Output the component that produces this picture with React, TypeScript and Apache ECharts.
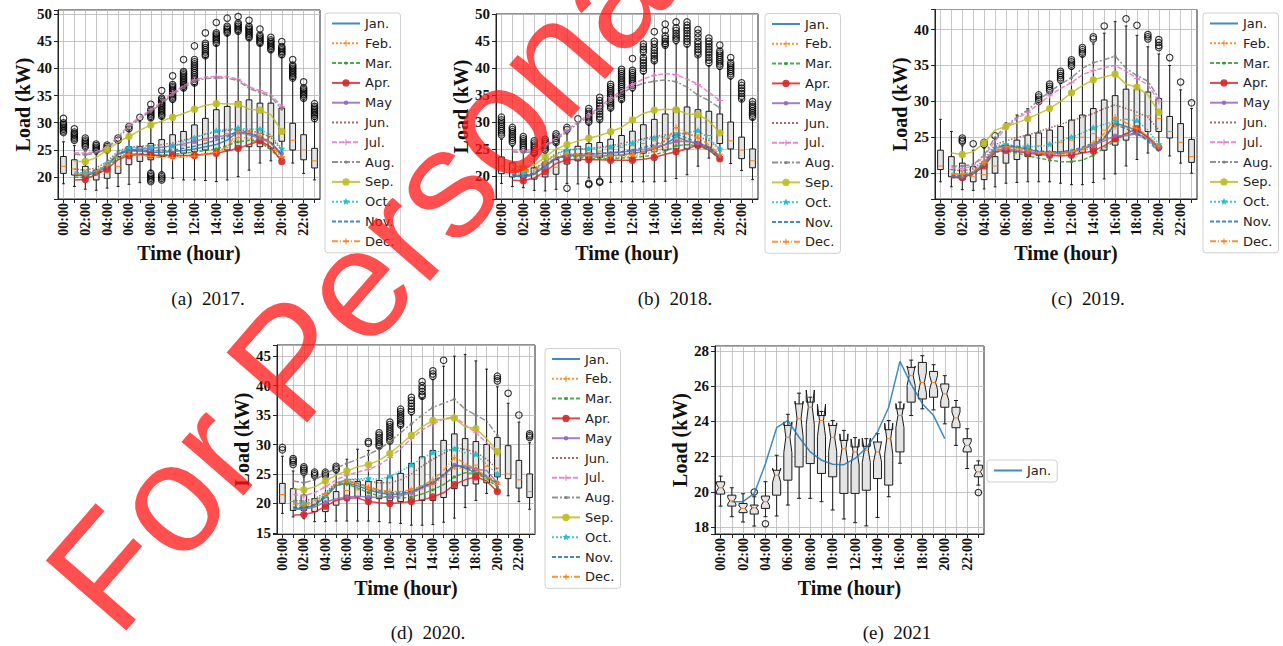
import React, { useEffect, useRef } from 'react';
import * as echarts from 'echarts';

// ---------- categories ----------
const HOURS = ['00:00', '01:00', '02:00', '03:00', '04:00', '05:00', '06:00', '07:00', '08:00', '09:00', '10:00', '11:00',
  '12:00', '13:00', '14:00', '15:00', '16:00', '17:00', '18:00', '19:00', '20:00', '21:00', '22:00', '23:00'];
const MONTHS = ['Jan.', 'Feb.', 'Mar.', 'Apr.', 'May', 'Jun.', 'Jul.', 'Aug.', 'Sep.', 'Oct.', 'Nov.', 'Dec.'];
// monthly mean lines are drawn at hours 01:00 .. 20:00
const LINE_HOURS = [1, 2, 3, 4, 5, 6, 7, 8, 9, 10, 11, 12, 13, 14, 15, 16, 17, 18, 19, 20];

// ---------- 2017 ----------
// [low whisker, Q1, median, Q3, high whisker] per hour
const boxes2017 = [
  [18.8, 20.7, 22.0, 23.8, 26.5], [18.3, 20.4, 21.5, 23.2, 25.8], [17.8, 20.1, 21.0, 22.0, 24.8], [17.6, 19.5, 20.3, 21.3, 24.2],
  [18.0, 19.8, 20.8, 22.0, 24.5], [18.3, 20.7, 22.0, 23.8, 26.5], [18.7, 22.3, 23.8, 25.6, 28.5], [19.0, 22.9, 24.2, 25.6, 30.2],
  [21.3, 23.2, 24.6, 26.2, 30.5], [21.0, 23.8, 25.0, 26.9, 30.8], [19.8, 24.1, 25.4, 27.8, 33.8], [19.5, 24.4, 25.8, 28.4, 36.0],
  [19.5, 24.7, 26.2, 29.6, 37.0], [19.4, 25.0, 26.8, 30.8, 42.0], [19.2, 25.0, 27.5, 32.4, 44.2], [19.5, 25.0, 28.0, 33.0, 46.0],
  [20.1, 25.3, 28.5, 33.9, 46.5], [21.3, 25.6, 28.5, 34.2, 45.2], [22.6, 25.6, 28.0, 33.6, 44.2], [23.0, 25.3, 27.5, 33.6, 43.0],
  [23.5, 26.6, 28.5, 32.7, 42.0], [22.6, 25.0, 26.8, 29.9, 38.0], [20.7, 23.2, 25.0, 27.8, 34.2], [19.5, 21.7, 23.0, 25.3, 30.6],
];
const outliers2017 = [
  [30.8, 30.0, 29.7, 29.4, 29.1, 28.8, 28.5, 28.2], [28.9, 28.3, 28.0, 27.7, 27.4, 27.1, 26.8], [27.2, 26.8, 26.5, 26.2, 25.9, 25.6],
  [26.1, 25.8, 25.5, 25.2, 24.9], [25.9, 25.6, 25.3, 25.0], [27.2, 26.8], [29.3, 28.9], [31.0],
  [33.4, 32.4, 32.1, 31.8, 31.5, 31.2, 30.9, 20.7, 20.4, 20.1, 19.8, 19.5, 19.2],
  [35.9, 34.5, 34.2, 33.9, 33.6, 33.3, 33.0, 32.7, 32.4, 32.1, 31.8, 31.5, 31.2, 20.4, 20.1, 19.8, 19.5],
  [38.6, 37.0, 36.7, 36.4, 36.1, 35.8, 35.5, 35.2, 34.9, 34.6, 34.3],
  [41.6, 39.4, 39.1, 38.8, 38.5, 38.2, 37.9, 37.6, 37.3, 37.0, 36.7, 36.4],
  [44.1, 41.6, 41.2, 40.8, 40.4, 40.0, 39.6, 39.2, 38.8, 38.4, 38.0, 37.6, 37.3],
  [46.5, 44.6, 44.2, 43.8, 43.4, 43.0, 42.6, 42.3], [48.4, 46.5, 46.2, 45.9, 45.6, 45.3, 45.0, 44.6],
  [49.2, 47.7, 47.4, 47.1, 46.8, 46.5], [49.5, 48.3, 48.0, 47.7, 47.4, 47.1, 46.8],
  [48.8, 47.7, 47.4, 47.1, 46.8, 46.5, 46.2, 45.9, 45.6], [47.2, 46.1, 45.8, 45.5, 45.2, 44.9, 44.6],
  [45.7, 45.2, 44.9, 44.6, 44.3, 44.0, 43.7, 43.4], [44.9, 44.0, 43.7, 43.4, 43.1, 42.8, 42.5],
  [41.6, 40.6, 40.3, 40.0, 39.7, 39.4, 39.1, 38.8, 38.5, 38.2], [37.5, 36.4, 36.1, 35.8, 35.5, 35.2, 34.9, 34.5],
  [33.5, 33.0, 32.7, 32.4, 32.1, 31.8, 31.5, 31.2, 30.8],
];
const lines2017 = [
  [20.3, 20.3, 20.8, 22.0, 24.2, 24.8, 24.8, 24.6, 24.6, 24.7, 24.9, 25.2, 25.6, 26.0, 26.8, 28.3, 28.0, 27.4, 26.3, 24.0], // Jan
  [20.8, 20.8, 21.2, 22.3, 24.0, 24.3, 24.1, 23.9, 23.8, 23.8, 23.9, 24.1, 24.3, 24.6, 25.4, 27.3, 27.2, 26.6, 25.6, 23.8], // Feb
  [20.0, 20.0, 20.5, 21.7, 23.6, 24.2, 24.3, 24.1, 24.1, 24.2, 24.4, 24.6, 24.9, 25.2, 25.8, 26.5, 26.8, 26.5, 25.0, 23.2], // Mar
  [19.5, 19.6, 20.5, 21.5, 23.2, 24.0, 24.2, 24.1, 24.0, 24.0, 24.0, 24.0, 24.2, 24.4, 24.8, 25.3, 26.0, 26.7, 25.5, 22.9], // Apr
  [20.5, 20.5, 21.0, 22.3, 24.3, 25.0, 25.2, 25.3, 25.5, 25.8, 26.1, 26.6, 27.1, 27.4, 27.7, 28.2, 27.8, 27.1, 26.3, 24.3], // May
  [21.5, 21.3, 21.7, 22.8, 24.8, 25.5, 25.7, 25.8, 26.0, 26.3, 26.8, 27.3, 27.9, 28.3, 28.6, 28.8, 28.5, 28.2, 27.3, 25.0], // Jun
  [24.5, 24.4, 24.7, 25.5, 27.5, 29.5, 31.1, 32.4, 33.8, 35.5, 36.8, 37.9, 38.4, 38.5, 38.5, 38.0, 36.6, 35.9, 35.2, 33.0], // Jul
  [24.2, 24.1, 24.4, 25.2, 27.2, 29.2, 30.8, 32.1, 33.5, 35.2, 36.5, 37.6, 38.1, 38.2, 38.2, 37.7, 36.3, 35.6, 34.8, 32.5], // Aug
  [22.9, 22.9, 23.6, 25.0, 26.4, 27.5, 28.6, 29.6, 30.3, 31.0, 31.7, 32.5, 33.2, 33.5, 33.5, 33.4, 32.5, 32.3, 31.5, 28.4], // Sep
  [21.0, 20.7, 21.2, 22.5, 24.5, 25.4, 25.4, 25.4, 25.5, 25.7, 26.5, 27.2, 28.0, 28.5, 28.8, 29.0, 28.8, 28.8, 27.8, 25.2], // Oct
  [20.5, 20.4, 20.9, 22.1, 24.3, 25.0, 25.0, 24.9, 24.9, 25.0, 25.3, 25.7, 26.2, 26.8, 27.4, 28.6, 28.2, 27.5, 26.4, 24.1], // Nov
  [20.6, 20.6, 21.0, 22.2, 24.0, 24.2, 24.0, 23.8, 23.6, 23.6, 23.7, 23.9, 24.2, 24.6, 25.6, 28.4, 28.3, 27.6, 26.2, 23.6], // Dec
];

// ---------- 2018 ----------
const boxes2018 = [
  [18.6, 20.4, 21.8, 23.5, 26.8], [18.0, 19.8, 21.0, 22.4, 25.5], [17.8, 19.6, 20.6, 21.8, 24.5], [17.3, 19.4, 20.3, 21.5, 23.8],
  [17.2, 19.8, 21.0, 22.5, 24.2], [17.5, 20.3, 21.6, 23.0, 25.8], [18.6, 22.2, 23.5, 24.8, 27.8], [18.5, 22.8, 24.0, 25.5, 29.8],
  [19.6, 23.2, 24.3, 26.0, 29.5], [19.8, 23.4, 24.6, 26.2, 30.2], [18.8, 23.5, 25.0, 26.8, 32.2], [18.9, 23.8, 25.3, 27.5, 33.8],
  [18.9, 24.0, 25.6, 28.3, 35.8], [18.9, 24.2, 26.0, 29.5, 39.0], [18.9, 24.5, 26.5, 30.5, 41.0], [19.0, 24.8, 27.0, 31.5, 44.0],
  [19.5, 25.0, 27.5, 32.5, 44.5], [20.2, 25.0, 27.8, 32.8, 44.0], [21.8, 25.2, 27.6, 32.3, 42.2], [23.3, 25.3, 27.5, 32.0, 40.5],
  [23.3, 26.0, 28.0, 31.5, 39.8], [22.3, 25.0, 26.5, 30.0, 38.0], [21.0, 23.2, 24.8, 27.2, 34.0], [19.3, 21.5, 22.8, 25.0, 30.5],
];
const outliers2018 = [
  [30.9, 30.4, 30.0, 29.6, 29.2, 28.8, 28.4, 28.0, 27.6], [29.0, 28.6, 28.2, 27.8, 27.4, 27.0, 26.6, 26.2],
  [27.3, 26.9, 26.5, 26.1, 25.7, 25.3, 24.9], [26.5, 26.1, 25.7, 25.3, 24.9, 24.5, 24.2], [26.8, 26.4, 26.0, 25.6, 25.2, 24.8],
  [27.8, 27.4, 27.0, 26.6, 26.2], [29.0, 28.6, 17.7], [30.6], [32.5, 32.0, 31.6, 31.2, 30.8, 30.4, 30.0, 18.6, 18.4],
  [34.6, 34.0, 33.5, 33.0, 32.5, 32.0, 31.5, 31.0, 30.5, 19.0, 18.8],
  [37.0, 36.6, 36.2, 35.8, 35.4, 35.0, 34.6, 34.2, 33.8, 33.4, 33.0, 32.6],
  [39.8, 39.4, 39.0, 38.6, 38.2, 37.8, 37.4, 37.0, 36.6, 36.2, 35.8, 35.4, 35.0, 34.6, 34.2],
  [41.8, 39.6, 39.2, 38.8, 38.4, 38.0, 37.6, 37.2, 36.8, 36.4], [44.5, 44.0, 43.5, 43.0, 42.0, 41.5, 41.0, 40.5, 40.0, 39.5],
  [46.8, 45.0, 44.5, 43.8, 43.3, 42.8, 42.3, 41.8, 41.4], [48.2, 47.0, 46.0, 45.5, 45.0, 44.6, 44.3],
  [48.6, 47.5, 47.0, 46.5, 46.0, 45.6, 45.2], [48.6, 48.0, 47.5, 47.0, 46.5, 46.0, 45.5, 45.0, 44.5],
  [47.2, 46.5, 45.8, 45.0, 44.5, 44.0, 43.5, 43.0, 42.5], [45.6, 45.0, 44.5, 44.0, 43.5, 43.0, 42.5, 42.0, 41.5, 41.0],
  [44.3, 43.2, 42.8, 42.4, 42.0, 41.6, 41.2, 40.8, 40.4], [42.0, 41.0, 40.6, 40.2, 39.8, 39.4, 39.0, 38.6],
  [37.3, 36.8, 36.3, 35.8, 35.3, 34.8, 34.3], [33.8, 33.3, 32.9, 32.5, 32.1, 31.7, 31.3, 30.9],
];
const lines2018 = [
  [20.0, 19.8, 20.3, 21.8, 23.3, 23.7, 23.8, 23.7, 23.7, 23.8, 23.9, 24.2, 24.5, 25.0, 25.8, 27.3, 26.5, 25.9, 25.2, 23.5],
  [20.6, 20.4, 20.8, 22.0, 23.5, 23.8, 23.7, 23.5, 23.4, 23.4, 23.5, 23.7, 24.0, 24.5, 25.2, 26.8, 26.4, 25.8, 25.0, 23.6],
  [20.3, 20.0, 20.5, 21.8, 23.2, 23.6, 23.5, 23.3, 23.2, 23.2, 23.3, 23.4, 23.6, 23.9, 24.5, 25.6, 25.8, 25.6, 24.8, 23.2],
  [19.2, 19.1, 19.6, 20.8, 22.3, 23.0, 23.1, 23.0, 23.0, 22.9, 22.9, 22.9, 23.1, 23.4, 24.0, 24.5, 25.0, 25.8, 24.8, 23.2],
  [20.2, 20.0, 20.4, 21.7, 23.2, 23.8, 24.0, 24.0, 24.1, 24.2, 24.4, 24.6, 24.9, 25.3, 25.8, 26.4, 26.4, 26.1, 25.4, 23.7],
  [21.3, 21.0, 21.4, 22.6, 24.2, 24.8, 25.0, 25.1, 25.3, 25.6, 26.0, 26.4, 26.9, 27.3, 27.6, 28.0, 27.8, 27.3, 26.6, 25.0],
  [24.8, 24.6, 24.8, 25.8, 27.0, 28.5, 30.0, 31.3, 32.8, 34.5, 35.8, 37.0, 38.0, 38.7, 39.0, 38.8, 38.0, 37.0, 35.5, 34.0],
  [24.5, 24.3, 24.5, 25.5, 26.7, 28.2, 29.7, 31.0, 32.4, 34.0, 35.3, 36.5, 37.2, 37.6, 37.8, 37.5, 36.5, 35.0, 34.0, 32.6],
  [22.0, 21.5, 22.0, 23.5, 25.0, 25.8, 26.5, 27.0, 27.5, 28.2, 29.0, 30.4, 31.6, 32.2, 32.4, 32.3, 31.5, 31.4, 30.2, 28.0],
  [21.0, 20.6, 21.0, 22.5, 24.0, 24.8, 25.0, 25.0, 25.2, 25.3, 25.6, 26.0, 26.6, 27.0, 27.3, 27.6, 28.0, 28.4, 27.0, 25.0],
  [20.2, 20.0, 20.5, 21.9, 23.4, 23.9, 24.1, 24.1, 24.2, 24.3, 24.5, 24.8, 25.3, 25.8, 26.5, 27.8, 27.0, 26.2, 25.3, 23.6],
  [21.0, 20.8, 21.2, 22.4, 23.8, 24.1, 24.0, 23.8, 23.7, 23.7, 23.8, 24.0, 24.4, 25.2, 26.5, 29.0, 28.0, 27.0, 25.8, 24.0],
];

// ---------- 2019 ----------
const boxes2019 = [
  [18.8, 20.5, 21.0, 23.2, 27.5], [18.1, 19.5, 20.5, 22.3, 25.8], [17.7, 19.1, 19.8, 21.4, 23.8], [17.6, 18.8, 19.5, 20.9, 23.2],
  [17.8, 19.1, 19.8, 21.4, 23.5], [18.1, 20.0, 21.0, 22.3, 25.0], [18.6, 21.4, 22.8, 23.9, 27.0], [18.7, 21.9, 23.0, 24.6, 28.1],
  [18.8, 22.3, 23.5, 25.3, 29.0], [18.8, 22.5, 23.8, 25.6, 29.8], [18.8, 22.5, 24.0, 26.0, 31.2], [18.6, 22.7, 24.3, 26.5, 32.5],
  [18.4, 22.8, 24.6, 27.4, 34.5], [18.4, 22.9, 25.0, 28.1, 36.2], [18.7, 23.0, 25.5, 29.0, 38.0], [19.2, 23.2, 26.0, 30.2, 39.5],
  [19.9, 23.9, 26.8, 30.8, 41.1], [21.0, 24.6, 27.5, 31.7, 40.5], [21.9, 25.6, 28.0, 31.7, 39.2], [22.8, 25.8, 28.0, 31.3, 37.6],
  [23.2, 25.8, 27.6, 30.4, 36.6], [22.4, 24.9, 25.8, 27.9, 35.0], [21.4, 23.0, 24.3, 26.9, 31.6], [20.0, 21.5, 22.3, 24.7, 29.0],
];
const outliers2019 = [
  [], [], [24.9, 24.6, 24.4], [24.1], [24.3, 24.0], [25.2], [], [], [],
  [30.9, 30.6, 30.3, 30.0], [32.4, 32.1, 31.8, 31.5], [34.2, 33.9, 33.6, 33.3, 33.0], [35.8, 35.5, 35.2, 34.9],
  [37.5, 37.2, 36.9, 36.6], [39.0, 38.7], [40.5], [], [41.5], [40.6], [39.3, 39.0, 38.7], [38.6, 38.2, 37.8, 37.5],
  [36.1], [32.7], [29.8],
];
const lines2019 = [
  [19.5, 19.5, 20.0, 21.3, 23.5, 23.8, 23.6, 23.3, 23.0, 22.9, 22.9, 23.0, 23.4, 24.0, 24.8, 27.0, 26.5, 26.0, 25.0, 23.5],
  [19.8, 19.7, 20.1, 21.3, 23.3, 23.6, 23.4, 23.1, 22.8, 22.7, 22.6, 22.7, 23.0, 23.7, 24.8, 26.5, 26.4, 25.8, 24.8, 23.5],
  [19.4, 19.3, 19.8, 21.0, 22.9, 23.1, 22.8, 22.4, 22.1, 21.8, 21.6, 21.6, 21.8, 22.5, 23.5, 24.5, 25.5, 25.5, 24.7, 23.3],
  [19.4, 19.4, 19.9, 21.0, 23.0, 23.2, 23.0, 22.8, 22.6, 22.5, 22.4, 22.5, 22.8, 23.1, 23.8, 24.8, 25.5, 26.2, 25.0, 23.6],
  [19.6, 19.5, 20.0, 21.3, 23.2, 23.4, 23.2, 22.9, 22.8, 22.7, 22.7, 22.9, 23.3, 23.9, 24.5, 25.2, 25.2, 25.5, 24.8, 23.6],
  [20.5, 20.3, 20.6, 21.8, 24.0, 24.5, 25.0, 25.3, 25.8, 26.3, 26.8, 27.3, 27.8, 28.3, 29.0, 29.5, 29.0, 28.5, 27.8, 26.0],
  [20.8, 20.6, 21.0, 22.3, 24.5, 26.3, 27.6, 28.5, 29.6, 30.8, 31.8, 32.6, 33.7, 34.3, 34.7, 35.0, 34.2, 33.2, 32.3, 30.0],
  [21.0, 21.0, 21.2, 22.5, 25.0, 26.6, 27.8, 28.8, 30.2, 31.3, 32.4, 33.3, 34.6, 35.4, 35.8, 36.3, 34.6, 33.6, 32.8, 30.5],
  [22.8, 22.6, 23.0, 24.2, 26.0, 26.5, 27.0, 27.6, 28.3, 29.0, 30.0, 31.2, 32.2, 33.0, 33.4, 33.8, 32.4, 32.0, 30.9, 28.5],
  [20.0, 19.8, 20.2, 21.5, 23.8, 24.0, 23.8, 23.7, 23.7, 24.0, 24.5, 25.0, 25.6, 26.3, 26.8, 27.3, 27.5, 27.3, 26.0, 24.0],
  [19.7, 19.6, 20.1, 21.4, 23.6, 23.9, 23.7, 23.4, 23.1, 23.0, 23.0, 23.2, 23.6, 24.2, 25.0, 26.8, 26.2, 25.5, 24.5, 23.0],
  [19.9, 19.8, 20.2, 21.5, 23.5, 23.7, 23.5, 23.2, 22.9, 22.8, 22.8, 23.0, 23.4, 24.2, 25.5, 27.8, 27.0, 26.2, 25.2, 23.8],
];

// ---------- 2020 ----------
const boxes2020 = [
  [18.3, 20.0, 21.5, 23.4, 28.0], [17.7, 18.8, 20.3, 22.5, 25.5], [17.4, 18.8, 19.8, 21.4, 24.5], [16.9, 18.6, 19.5, 20.8, 24.0],
  [16.9, 18.6, 19.7, 21.1, 24.0], [17.0, 19.7, 20.5, 22.0, 25.2], [17.0, 21.1, 22.2, 23.4, 27.5], [17.0, 21.1, 22.3, 23.7, 29.2],
  [17.0, 20.8, 22.0, 23.7, 29.0], [16.9, 20.8, 22.0, 23.9, 29.3], [16.7, 20.5, 22.0, 24.5, 30.3], [16.6, 20.3, 22.0, 25.1, 33.0],
  [16.3, 20.3, 22.5, 26.8, 35.0], [16.3, 20.5, 23.0, 27.9, 37.8], [16.4, 20.5, 23.5, 29.0, 41.0], [16.8, 21.0, 24.5, 30.7, 43.3],
  [17.5, 22.5, 26.0, 31.8, 45.0], [19.3, 23.0, 26.5, 31.0, 45.3], [20.5, 23.3, 26.5, 30.5, 44.2], [21.7, 23.5, 26.3, 30.0, 42.8],
  [22.0, 24.5, 26.0, 31.2, 39.8], [21.3, 24.2, 25.0, 29.8, 37.0], [20.3, 22.6, 24.0, 27.3, 33.8], [19.0, 21.0, 22.0, 25.0, 30.3],
];
const outliers2020 = [
  [29.5, 29.1], [27.6, 27.3, 27.0, 26.6], [26.2, 25.9, 25.6, 25.3], [25.3, 25.0, 24.7], [25.3, 25.0, 24.7], [26.3, 26.0, 25.7],
  [], [], [30.5, 30.2], [32.0, 31.6, 31.2, 30.8, 30.4, 30.0, 29.7], [33.8, 33.4, 33.0, 32.6, 32.2, 31.8, 31.4, 31.0, 30.6],
  [36.0, 35.6, 35.2, 34.8, 34.4, 34.0, 33.6, 33.3], [38.0, 37.5, 37.0, 36.5, 36.0, 35.6], [40.7, 40.0, 39.5, 39.0, 38.5, 38.2],
  [42.5, 42.0, 41.6], [44.3], [], [], [], [], [41.6, 41.2, 40.8], [38.7], [35.0], [31.8, 31.5, 31.2],
];
const lines2020 = [
  [19.2, 19.1, 19.7, 21.0, 23.0, 23.5, 23.0, 22.3, 21.8, 21.5, 21.6, 22.0, 22.7, 23.5, 24.8, 26.6, 26.0, 25.2, 24.5, 23.3],
  [19.8, 19.6, 20.0, 21.2, 23.0, 23.5, 23.1, 22.5, 22.0, 21.7, 21.6, 21.8, 22.4, 23.2, 24.5, 26.2, 25.8, 25.3, 24.5, 23.2],
  [19.4, 19.3, 19.8, 21.2, 23.2, 23.3, 22.6, 21.8, 21.3, 21.0, 20.9, 21.1, 21.6, 22.3, 23.2, 24.5, 25.2, 25.1, 24.2, 22.8],
  [18.0, 18.1, 18.5, 19.5, 20.5, 20.9, 20.9, 20.3, 20.1, 20.0, 20.1, 20.3, 20.6, 21.1, 21.8, 23.2, 24.0, 24.5, 23.8, 22.0],
  [19.0, 19.0, 19.4, 20.2, 20.8, 21.1, 21.2, 21.1, 21.0, 21.1, 21.3, 21.8, 22.6, 23.5, 24.8, 26.5, 26.3, 25.8, 25.6, 23.5],
  [20.5, 20.4, 20.8, 21.8, 23.5, 24.0, 24.0, 23.8, 23.5, 23.5, 24.0, 25.0, 26.3, 27.5, 28.5, 29.5, 29.2, 28.7, 27.5, 25.8],
  [21.5, 21.3, 21.8, 22.8, 24.0, 24.8, 25.3, 25.8, 26.5, 27.8, 29.3, 31.0, 32.5, 33.5, 34.3, 34.8, 33.3, 32.0, 30.3, 28.5],
  [23.8, 23.5, 24.0, 25.0, 26.0, 26.8, 27.5, 28.3, 29.2, 30.5, 32.0, 33.5, 35.0, 36.3, 37.0, 37.7, 36.0, 35.0, 34.0, 31.5],
  [22.5, 22.3, 22.8, 23.8, 24.8, 25.5, 26.2, 26.6, 27.3, 28.5, 30.0, 31.6, 33.0, 34.1, 34.3, 34.5, 33.0, 32.7, 31.0, 28.8],
  [20.2, 20.0, 20.5, 21.5, 23.5, 24.0, 24.2, 24.2, 24.1, 24.6, 25.5, 26.5, 27.7, 28.6, 29.0, 29.2, 28.6, 28.3, 26.6, 25.0],
  [19.3, 19.2, 19.8, 21.3, 23.3, 23.8, 23.4, 22.8, 22.2, 21.8, 21.8, 22.1, 22.8, 23.6, 25.0, 26.4, 26.1, 25.5, 24.7, 23.4],
  [20.0, 19.9, 20.3, 21.5, 23.4, 23.8, 23.4, 22.8, 22.3, 22.0, 22.0, 22.3, 23.0, 24.0, 25.6, 27.8, 26.8, 25.8, 24.6, 23.5],
];

// ---------- 2021 ----------
const boxes2021 = [
  [19.2, 19.88, 20.24, 20.58, 20.9], [18.6, 19.2, 19.5, 19.82, 20.24], [18.3, 18.83, 19.07, 19.35, 19.9], [18.07, 18.75, 19.1, 19.26, 19.73],
  [18.6, 19.07, 19.45, 19.77, 20.58], [18.64, 19.82, 20.95, 21.23, 22.08], [19.26, 20.67, 23.1, 23.77, 24.4], [19.64, 21.42, 24.15, 24.99, 25.6],
  [19.64, 21.61, 24.8, 25.09, 25.37], [19.45, 21.05, 24.05, 24.33, 24.56], [18.98, 20.86, 23.1, 23.77, 24.05], [18.47, 19.92, 22.45, 22.92, 23.49],
  [18.26, 19.92, 22.27, 22.55, 23.08], [18.08, 20.1, 22.36, 22.59, 23.02], [18.56, 20.76, 22.27, 22.83, 23.3], [19.73, 20.39, 23.02, 23.53, 24.05],
  [21.63, 22.27, 24.33, 24.71, 25.09], [24.33, 25.09, 26.59, 27.06, 27.47], [24.71, 25.27, 26.2, 27.34, 27.72], [24.65, 25.37, 26.2, 26.83, 27.21],
  [23.86, 24.8, 25.56, 26.12, 26.59], [22.64, 23.64, 24.2, 24.8, 25.18], [21.33, 22.27, 22.64, 23.02, 23.58], [20.39, 20.86, 21.14, 21.52, 21.76],
];
const outliers2021 = [[], [], [], [20.0], [18.2], [], [], [], [], [], [], [], [], [], [], [], [], [], [], [], [], [], [], [19.97]];
const lines2021 = [
  [19.45, 19.45, 19.92, 21.6, 23.64, 24.05, 23.1, 22.27, 21.8, 21.57, 21.55, 21.9, 22.5, 23.4, 24.8, 27.4, 26.1, 25.0, 24.33, 23.02], // Jan
];

// ---------- styles ----------
const MONTH_COLORS = ['#1f77b4', '#ff7f0e', '#2ca02c', '#d62728', '#9467bd', '#8c564b', '#e377c2', '#7f7f7f', '#bcbd22', '#17becf', '#1f77b4', '#ff7f0e'];
// every marker path sits in a 20x20 box (two invisible specks fix the box), so the legend draws it at its true size
const SPECKS = 'M-10,-10h0.02v0.02h-0.02Z M9.98,9.98h0.02v0.02h-0.02Z';
const circ = (r: number) => `path://M${r},0A${r},${r},0,1,1,${-r},0A${r},${r},0,1,1,${r},0Z ${SPECKS}`;
const plus = (a: number, t: number) => `path://M${-t},${-a}H${t}V${-t}H${a}V${t}H${t}V${a}H${-t}V${t}H${-a}V${-t}H${-t}Z ${SPECKS}`;
const STAR = `path://M0,-6.5L1.9,-2.6L6.2,-2L3.1,1L3.8,5.3L0,3.3L-3.8,5.3L-3.1,1L-6.2,-2L-1.9,-2.6Z ${SPECKS}`;
const BLANK = `path://${SPECKS}`;
const MARK_SIZE = 11.2; // = 0.8 * legend itemHeight
const MONTH_STYLE: any[] = [
  { type: 'solid', symbol: BLANK, show: false },
  { type: 'dotted', symbol: plus(5.5, 0.9), show: true },
  { type: [4, 2], symbol: circ(3), show: true },
  { type: 'solid', symbol: circ(6.5), show: true },
  { type: 'solid', symbol: circ(4), show: true },
  { type: 'dotted', symbol: BLANK, show: false },
  { type: [5, 2], symbol: plus(5.5, 0.9), show: true },
  { type: [6, 2, 2, 2], symbol: circ(2.8), show: true },
  { type: 'solid', symbol: circ(6.5), show: true },
  { type: 'dotted', symbol: STAR, show: true },
  { type: [4, 2], symbol: BLANK, show: false },
  { type: [6, 2, 1, 2], symbol: plus(5.5, 0.9), show: true },
];

const SERIF = '"Liberation Serif", "Times New Roman", serif';
const SANS = '"DejaVu Sans", sans-serif';

const PANELS = [
  { boxes: boxes2017, outliers: outliers2017, lines: lines2017, caption: '(a)  2017.', grid: { left: 58, top: 10, width: 262, height: 189 }, yMin: 16.0, yMax: 50.7, step: 5, legend: { left: 325, top: 13 }, cap: [208, 298], notch: false },
  { boxes: boxes2018, outliers: outliers2018, lines: lines2018, caption: '(b)  2018.', grid: { left: 496, top: 14, width: 262, height: 185 }, yMin: 15.7, yMax: 50.08, step: 5, legend: { left: 765, top: 13.5 }, cap: [675, 298], notch: false },
  { boxes: boxes2019, outliers: outliers2019, lines: lines2019, caption: '(c)  2019.', grid: { left: 935, top: 9.5, width: 262, height: 189.5 }, yMin: 16.4, yMax: 42.8, step: 5, legend: { left: 1203, top: 13 }, cap: [1088, 298], notch: false },
  { boxes: boxes2020, outliers: outliers2020, lines: lines2020, caption: '(d)  2020.', grid: { left: 277, top: 345, width: 258, height: 189 }, yMin: 14.8, yMax: 46.9, step: 5, legend: { left: 545, top: 348.5 }, cap: [428, 632], notch: false },
  { boxes: boxes2021, outliers: outliers2021, lines: lines2021, caption: '(e)  2021', grid: { left: 715, top: 346, width: 269, height: 188 }, yMin: 17.62, yMax: 28.27, step: 2, legend: { left: 987, top: 460 }, cap: [897, 632], notch: true },
];

function makeBoxRender(notch: boolean) {
  return (params: any, api: any) => {
    const idx = api.value(0);
    const lo = api.value(1), q1 = api.value(2), med = api.value(3), q3 = api.value(4), hi = api.value(5);
    const band = api.size([1, 0])[0];
    const w = band * (notch ? 0.36 : 0.26);
    const c = (v: number) => api.coord([idx, v]);
    const x = c(med)[0];
    const yLo = c(lo)[1], yQ1 = c(q1)[1], yMed = c(med)[1], yQ3 = c(q3)[1], yHi = c(hi)[1];
    let pts: number[][];
    if (notch) {
      const d = 0.28 * (q3 - q1);
      const nLo = c(med - d)[1], nHi = c(med + d)[1];
      pts = [[x - w, yQ1], [x - w, nLo], [x - w / 2, yMed], [x - w, nHi], [x - w, yQ3], [x + w, yQ3], [x + w, nHi], [x + w / 2, yMed], [x + w, nLo], [x + w, yQ1]];
    } else {
      pts = [[x - w, yQ1], [x - w, yQ3], [x + w, yQ3], [x + w, yQ1]];
    }
    const mw = notch ? w / 2 : w;
    const ls = { stroke: '#1a1a1a', lineWidth: 1 };
    return {
      type: 'group',
      children: [
        { type: 'line', shape: { x1: x, y1: yQ3, x2: x, y2: yHi }, style: ls },
        { type: 'line', shape: { x1: x, y1: yQ1, x2: x, y2: yLo }, style: ls },
        { type: 'line', shape: { x1: x - w / 2, y1: yHi, x2: x + w / 2, y2: yHi }, style: ls },
        { type: 'line', shape: { x1: x - w / 2, y1: yLo, x2: x + w / 2, y2: yLo }, style: ls },
        { type: 'polygon', shape: { points: pts }, style: { fill: '#e4e4e4', stroke: '#1a1a1a', lineWidth: 1 } },
        { type: 'line', shape: { x1: x - mw, y1: yMed, x2: x + mw, y2: yMed }, style: { stroke: '#ff7f0e', lineWidth: 1 } },
      ],
    };
  };
}

function buildOption() {
  const grid: any[] = [], xAxis: any[] = [], yAxis: any[] = [], legend: any[] = [], series: any[] = [], graphic: any[] = [];
  PANELS.forEach((p, i) => {
    grid.push({ ...p.grid, show: true, borderColor: '#222', borderWidth: 1, backgroundColor: 'transparent' });
    xAxis.push({
      gridIndex: i, type: 'category', data: HOURS, boundaryGap: true,
      axisLine: { show: true, lineStyle: { color: '#222', width: 1 } },
      axisTick: { show: true, alignWithLabel: true, interval: 0, length: 4, lineStyle: { color: '#222' } },
      axisLabel: { interval: 1, rotate: 90, fontFamily: SERIF, fontWeight: 'bold', fontSize: 14, color: '#111', margin: 4 },
      splitLine: { show: true, interval: 0, alignWithLabel: true, lineStyle: { color: '#b8b8b8', width: 0.8 } },
      name: 'Time (hour)', nameLocation: 'middle', nameGap: 44,
      nameTextStyle: { fontFamily: SERIF, fontWeight: 'bold', fontSize: 20, color: '#111' },
    });
    yAxis.push({
      gridIndex: i, type: 'value', min: p.yMin, max: p.yMax, minInterval: p.step, maxInterval: p.step,
      splitNumber: Math.round((p.yMax - p.yMin) / p.step),
      axisLine: { show: true, lineStyle: { color: '#222', width: 1 } },
      axisTick: { show: true, length: 4, lineStyle: { color: '#222' } },
      axisLabel: {
        fontFamily: SERIF, fontWeight: 'bold', fontSize: 15, color: '#111', margin: 6,
        formatter: (v: number) => (Math.abs(v / p.step - Math.round(v / p.step)) < 1e-6 ? String(Math.round(v)) : ''),
      },
      splitLine: { show: true, lineStyle: { color: '#b8b8b8', width: 0.8 } },
      name: 'Load (kW)', nameLocation: 'middle', nameGap: 25,
      nameTextStyle: { fontFamily: SERIF, fontWeight: 'bold', fontSize: 20, color: '#111' },
    });
    const names = MONTHS.slice(0, p.lines.length);
    legend.push({
      data: names, orient: 'vertical', left: p.legend.left, top: p.legend.top, selectedMode: false,
      itemWidth: 28, itemHeight: 14, itemGap: 6.8, padding: [4, 6, 5, 6],
      borderColor: '#d0d0d0', borderWidth: 1, borderRadius: 3, backgroundColor: 'rgba(255,255,255,0.85)',
      textStyle: { fontFamily: SANS, fontSize: 13, color: '#222' },
    });
    series.push({
      type: 'custom', xAxisIndex: i, yAxisIndex: i, renderItem: makeBoxRender(p.notch), z: 2,
      encode: { x: 0, y: [1, 2, 3, 4, 5] },
      data: p.boxes.map((b, h) => [h, ...b]),
    });
    series.push({
      type: 'scatter', xAxisIndex: i, yAxisIndex: i, symbol: 'circle', symbolSize: 6.5, z: 3,
      itemStyle: { color: 'rgba(0,0,0,0)', borderColor: '#000', borderWidth: 1.1 },
      data: p.outliers.flatMap((arr, h) => arr.map((v) => [h, v])),
    });
    p.lines.forEach((vals, m) => {
      const st = MONTH_STYLE[m];
      series.push({
        type: 'line', name: MONTHS[m], xAxisIndex: i, yAxisIndex: i, z: 5 + m * 0.01,
        symbol: st.symbol, symbolSize: MARK_SIZE, showSymbol: st.show,
        lineStyle: { color: MONTH_COLORS[m], width: 1.5, type: st.type, opacity: 0.85 },
        itemStyle: { color: MONTH_COLORS[m], opacity: 0.9, borderWidth: 0 },
        data: vals.map((v, k) => [LINE_HOURS[k], v]),
      });
    });
    graphic.push({
      type: 'text', x: p.cap[0], y: p.cap[1], z: 50,
      style: { text: p.caption, fontFamily: SERIF, fontSize: 19, fill: '#111', align: 'center', verticalAlign: 'middle', textAlign: 'center', textVerticalAlign: 'middle' },
    });
  });
  graphic.push({
    type: 'text', x: 77.5, y: 605, rotation: (49 * Math.PI) / 180, z: 200,
    style: {
      text: 'For Personal Use Only', fontFamily: '"Liberation Sans", Arial, sans-serif', fontSize: 155,
      fill: 'rgba(255,20,20,0.75)', align: 'left', verticalAlign: 'middle', textAlign: 'left', textVerticalAlign: 'middle',
    },
  });
  return { animation: false, backgroundColor: '#ffffff', grid, xAxis, yAxis, legend, series, graphic };
}

export default function App() {
  const ref = useRef<HTMLDivElement>(null);
  useEffect(() => {
    if (!ref.current) return;
    const chart = echarts.init(ref.current, undefined, { renderer: 'svg' });
    chart.setOption(buildOption() as any);
    return () => chart.dispose();
  }, []);
  return <div ref={ref} style={{ position: 'absolute', left: 0, top: 0, width: 1283, height: 646, background: '#fff' }} />;
}
